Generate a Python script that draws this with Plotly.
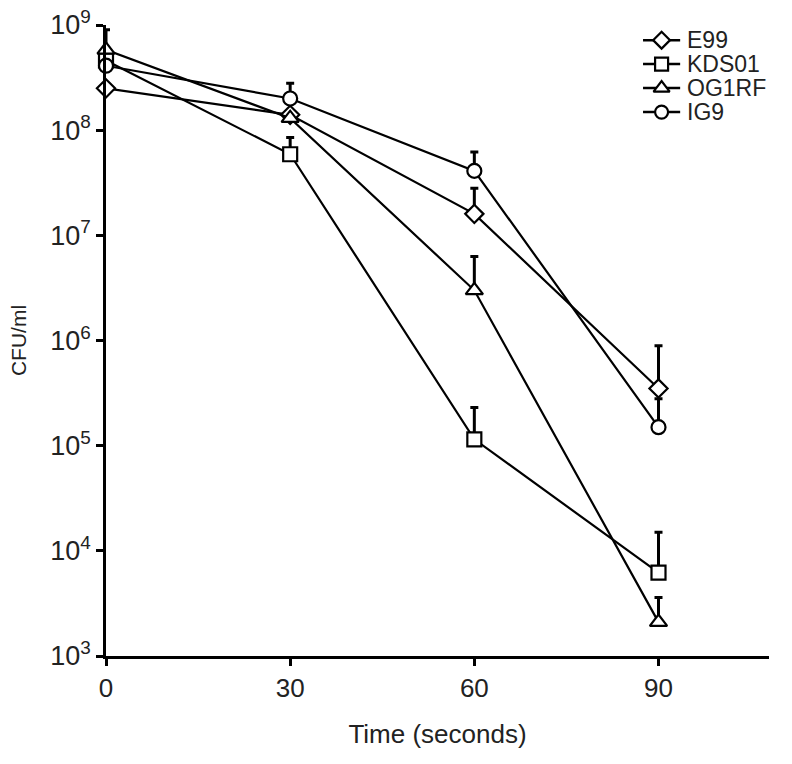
import plotly.graph_objects as go

time = [0, 30, 60, 90]
series_names = ["E99", "KDS01", "OG1RF", "IG9"]
e99 = [2.5e8, 1.4e8, 1.6e7, 3.5e5]
e99_err = [0, 0, 1.2e7, 5.4e5]
kds01 = [4.6e8, 5.9e7, 1.15e5, 6.2e3]
kds01_err = [0, 2.6e7, 1.15e5, 8.8e3]
og1rf = [5.8e8, 1.3e8, 3.0e6, 2.1e3]
og1rf_err = [3.2e8, 0, 3.3e6, 1.5e3]
ig9 = [4.1e8, 2.0e8, 4.1e7, 1.5e5]
ig9_err = [0, 8e7, 2.1e7, 1.3e5]
symbols = ["diamond", "square", "triangle-up", "circle"]
sizes = [14, 14, 15, 14]
y_tick_vals = [1e3, 1e4, 1e5, 1e6, 1e7, 1e8, 1e9]
y_tick_text = ["10<sup>3</sup>", "10<sup>4</sup>", "10<sup>5</sup>", "10<sup>6</sup>",
               "10<sup>7</sup>", "10<sup>8</sup>", "10<sup>9</sup>"]
x_tick_vals = [0, 30, 60, 90]

# legend layout (fractions of the plot area, on a hidden overlay axis)
LEG_X0, LEG_X1, LEG_TX = 0.810, 0.866, 0.874
LEG_Y = [0.976, 0.938, 0.900, 0.862]

fig = go.Figure()
for name, vals, errs, sym, sz in zip(series_names, [e99, kds01, og1rf, ig9],
                                    [e99_err, kds01_err, og1rf_err, ig9_err], symbols, sizes):
    fig.add_trace(go.Scatter(
        x=time, y=vals, name=name, mode="lines+markers", showlegend=False,
        line=dict(color="black", width=2.2),
        marker=dict(symbol=sym, size=sz, color="white", line=dict(width=2.2, color="black")),
        error_y=dict(type="data", symmetric=False, array=errs, arrayminus=[0]*len(errs),
                     color="black", thickness=3, width=4),
        cliponaxis=False,
    ))

# manual legend
for name, sym, sz, ly in zip(series_names, symbols, sizes, LEG_Y):
    fig.add_trace(go.Scatter(
        x=[LEG_X0, LEG_X1], y=[ly, ly], xaxis="x2", yaxis="y2", mode="lines",
        showlegend=False, hoverinfo="skip", line=dict(color="black", width=2.5),
        cliponaxis=False,
    ))
    fig.add_trace(go.Scatter(
        x=[(LEG_X0 + LEG_X1) / 2], y=[ly], xaxis="x2", yaxis="y2", mode="markers",
        showlegend=False, hoverinfo="skip",
        marker=dict(symbol=sym, size=sz - 1, color="white", line=dict(width=2.2, color="black")),
        cliponaxis=False,
    ))
    fig.add_annotation(x=LEG_TX, y=ly, xref="x2", yref="y2", text=name, showarrow=False,
                       xanchor="left", yanchor="middle", font=dict(size=23, color="#222"))

fig.update_layout(
    width=792, height=764,
    margin=dict(l=106, r=23, t=25, b=108),
    plot_bgcolor="white", paper_bgcolor="white",
    font=dict(family="Liberation Sans, Arial", color="#222", size=20),
    showlegend=False,
    xaxis=dict(range=[0, 108], tickvals=x_tick_vals, showline=True, linecolor="black",
               linewidth=2.5, ticks="outside", tickwidth=2.5, ticklen=7, tickcolor="black",
               showgrid=False, zeroline=False, tickfont=dict(size=26), automargin=False,
               ticklabeloverflow="allow",
               title=dict(text="Time (seconds)", font=dict(size=26), standoff=23)),
    yaxis=dict(type="log", range=[3, 9], tickvals=y_tick_vals, ticktext=y_tick_text,
               showline=True, linecolor="black", linewidth=2.5, ticks="outside",
               tickwidth=2.5, ticklen=7, tickcolor="black", showgrid=False, zeroline=False,
               tickfont=dict(size=27), automargin=False, ticklabeloverflow="allow",
               title=dict(text="CFU/ml", font=dict(size=21), standoff=18)),
    xaxis2=dict(overlaying="x", range=[0, 1], visible=False, fixedrange=True),
    yaxis2=dict(overlaying="y", range=[0, 1], visible=False, fixedrange=True),
)
fig.write_html("out.html", config={"displayModeBar": False},
               post_script="document.body.style.margin='0';document.body.style.padding='0';")
